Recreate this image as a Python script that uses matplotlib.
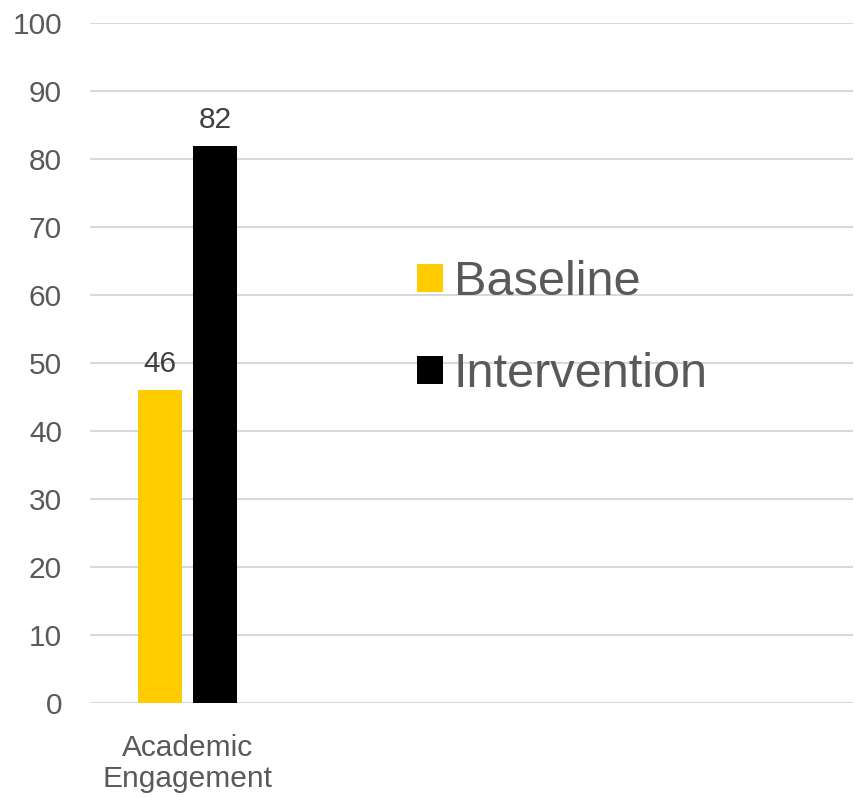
import matplotlib.pyplot as plt

# data
categories = ['Academic\nEngagement']
baseline = [46]
intervention = [82]
series_names = ['Baseline', 'Intervention']

plt.rcParams['font.family'] = ['Liberation Sans', 'DejaVu Sans']
text_color = '#595959'

fig = plt.figure(figsize=(8.55, 7.98), dpi=100)
ax = fig.add_axes([0.105, 0.119, 0.893, 0.852])

x = list(range(len(categories)))
width = 0.225
b1 = ax.bar([i - 0.141 for i in x], baseline, width, color='#FFCC00', label=series_names[0], zorder=3)
b2 = ax.bar([i + 0.140 for i in x], intervention, width, color='#000000', label=series_names[1], zorder=3)

# value labels on top of bars
ax.bar_label(b1, padding=9, fontsize=21.5, color='#404040')
ax.bar_label(b2, padding=8, fontsize=21.5, color='#404040')

ax.set_ylim(0, 100)
ax.set_yticks(range(0, 101, 10))
ax.set_xlim(-0.5, 3.4)
ax.set_xticks(x)
ax.set_xticklabels(categories, fontsize=21.5, color=text_color, linespacing=1.15)
ax.tick_params(axis='y', length=0, pad=20, labelsize=21.5, labelcolor=text_color)
ax.tick_params(axis='x', length=0, pad=22)

ax.grid(axis='y', color='#D9D9D9', linewidth=1.5, zorder=0)
for s in ax.spines.values():
    s.set_visible(False)

ax.legend(loc='upper left', bbox_to_anchor=(0.488, 0.674), bbox_transform=fig.transFigure,
          frameon=False, fontsize=35, labelcolor=text_color,
          handlelength=0.52, handleheight=0.52, handletextpad=0.23, labelspacing=0.97,
          borderaxespad=0, borderpad=0)

fig.savefig('out.png', dpi=100)
